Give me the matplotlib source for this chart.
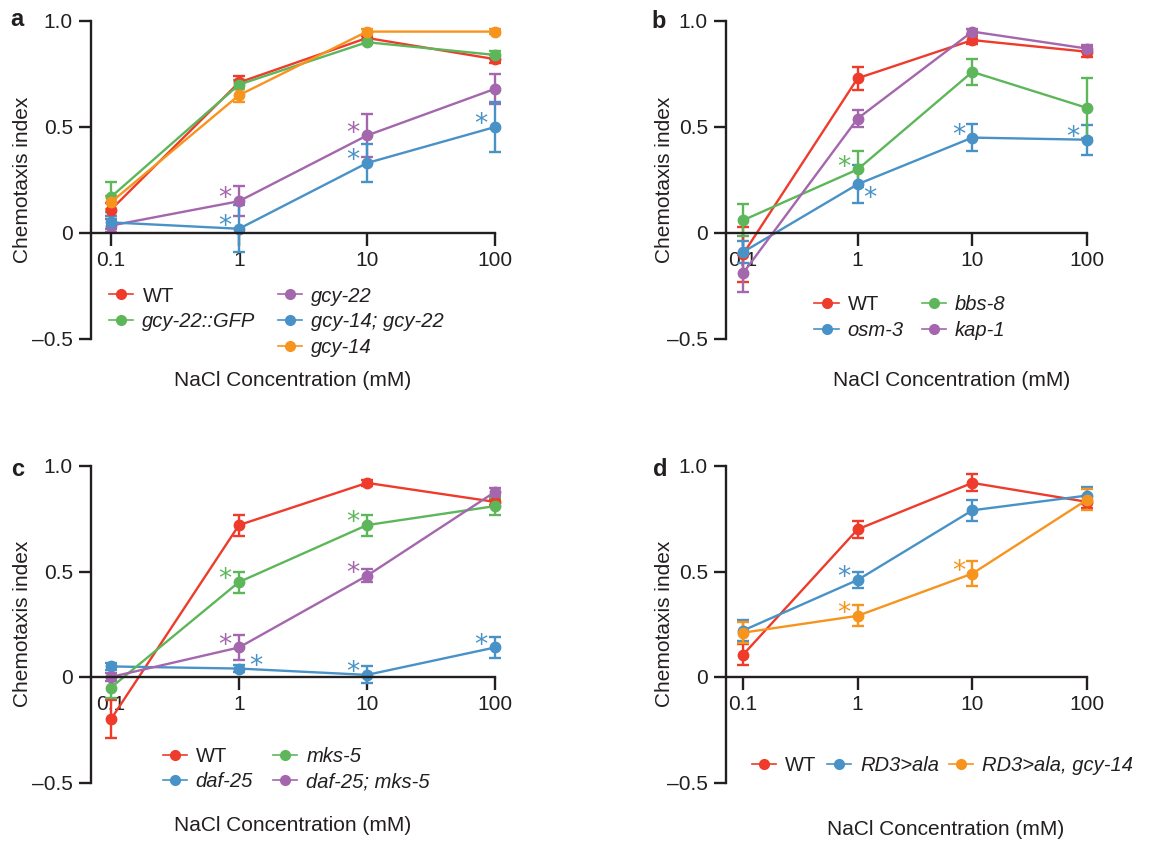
import numpy as np
import matplotlib
matplotlib.use('Agg')
import matplotlib.pyplot as plt
from matplotlib.lines import Line2D
from matplotlib.ticker import NullLocator, FixedLocator, FixedFormatter

plt.rcParams['font.family'] = ['Liberation Sans', 'DejaVu Sans']

# NaCl concentrations (mM)
conc = [0.1, 1, 10, 100]

# colours
RED = '#EE3B2B'
GREEN = '#5DB75A'
PURPLE = '#A466AC'
BLUE = '#4892C7'
ORANGE = '#F7941E'

# panel a
a_names = ['WT', 'gcy-22::GFP', 'gcy-22', 'gcy-14; gcy-22', 'gcy-14']
a_colors = [RED, GREEN, PURPLE, BLUE, ORANGE]
a_mean = [[0.11, 0.71, 0.92, 0.82],
          [0.17, 0.70, 0.90, 0.84],
          [0.035, 0.15, 0.46, 0.68],
          [0.05, 0.02, 0.33, 0.50],
          [0.145, 0.65, 0.95, 0.95]]
a_err = [[0.03, 0.03, 0.01, 0.02],
         [0.07, 0.02, 0.01, 0.02],
         [0.03, 0.07, 0.10, 0.07],
         [0.03, 0.11, 0.09, 0.12],
         [0.03, 0.03, 0.01, 0.01]]
a_stars = [(2, 1, 'l'), (3, 1, 'l'), (2, 2, 'l'), (3, 2, 'l'), (3, 3, 'l')]

# panel b
b_names = ['WT', 'osm-3', 'bbs-8', 'kap-1']
b_colors = [RED, BLUE, GREEN, PURPLE]
b_mean = [[-0.10, 0.73, 0.91, 0.855],
          [-0.09, 0.23, 0.45, 0.44],
          [0.06, 0.30, 0.76, 0.59],
          [-0.19, 0.54, 0.95, 0.87]]
b_err = [[0.13, 0.055, 0.02, 0.025],
         [0.05, 0.09, 0.065, 0.07],
         [0.075, 0.085, 0.06, 0.14],
         [0.09, 0.04, 0.01, 0.015]]
b_stars = [(2, 1, 'l'), (1, 1, 'rb'), (1, 2, 'l'), (1, 3, 'l')]

# panel c
c_names = ['WT', 'daf-25', 'mks-5', 'daf-25; mks-5']
c_colors = [RED, BLUE, GREEN, PURPLE]
c_mean = [[-0.20, 0.72, 0.92, 0.83],
          [0.05, 0.04, 0.01, 0.14],
          [-0.05, 0.45, 0.72, 0.81],
          [0.0, 0.14, 0.48, 0.877]]
c_err = [[0.09, 0.05, 0.015, 0.015],
         [0.015, 0.015, 0.04, 0.05],
         [0.05, 0.05, 0.05, 0.04],
         [0.02, 0.06, 0.03, 0.02]]
c_stars = [(2, 1, 'l'), (3, 1, 'l'), (1, 1, 'r'), (2, 2, 'l'), (3, 2, 'l'),
           (1, 2, 'l'), (1, 3, 'l')]

# panel d
d_names = ['WT', 'RD3>ala', 'RD3>ala, gcy-14']
d_colors = [RED, BLUE, ORANGE]
d_mean = [[0.105, 0.70, 0.92, 0.83],
          [0.22, 0.46, 0.79, 0.86],
          [0.21, 0.29, 0.49, 0.84]]
d_err = [[0.05, 0.04, 0.04, 0.03],
         [0.05, 0.04, 0.05, 0.04],
         [0.05, 0.05, 0.06, 0.05]]
d_stars = [(1, 1, 'l'), (2, 1, 'l'), (2, 2, 'l')]

yticks = [-0.5, 0, 0.5, 1.0]
ytick_labels = ['\u20130.5', '0', '0.5', '1.0']
xtick_labels = ['0.1', '1', '10', '100']

star_offsets = {'l': (-10, -8), 'r': (12, -8), 'rb': (9, -20)}

W, H = 1175, 841
fig = plt.figure(figsize=(W / 100, H / 100), dpi=100)


def px_axes(left, right, top, bottom):
    return fig.add_axes([left / W, 1 - bottom / H, (right - left) / W, (bottom - top) / H])


def draw_panel(ax, names, colors, mean, err, stars, xlim_left, leg_pos, ncol,
               xlab_pos, colspace):
    for i in range(len(names)):
        cont = ax.errorbar(conc, mean[i], yerr=err[i], fmt='-o', color=colors[i],
                           lw=1.7, ms=7.5, capsize=4, capthick=1.7, elinewidth=1.7)
        for art in cont.get_children():
            art.set_clip_on(False)
    for s, k, side in stars:
        ax.annotate('*', xy=(conc[k], mean[s][k]), xytext=star_offsets[side],
                    textcoords='offset points', ha='center', va='bottom',
                    color=colors[s], fontsize=19, family='DejaVu Sans',
                    annotation_clip=False)
    ax.set_xscale('log')
    ax.set_xlim(xlim_left, 100)
    ax.set_ylim(-0.5, 1.0)
    ax.xaxis.set_major_locator(FixedLocator(conc))
    ax.xaxis.set_major_formatter(FixedFormatter(xtick_labels))
    ax.xaxis.set_minor_locator(NullLocator())
    ax.set_yticks(yticks)
    ax.set_yticklabels(ytick_labels)
    ax.spines['top'].set_visible(False)
    ax.spines['right'].set_visible(False)
    ax.spines['bottom'].set_position(('data', 0))
    ax.spines['left'].set_bounds(-0.5, 1.0)
    for sp in ['left', 'bottom']:
        ax.spines[sp].set_linewidth(1.7)
        ax.spines[sp].set_color('#231F20')
    ax.tick_params(direction='out', length=9, width=1.7, labelsize=15,
                   colors='#231F20', pad=4)
    ax.set_xlabel('NaCl Concentration (mM)', fontsize=15, va='center', color='#231F20')
    ax.xaxis.set_label_coords(*xlab_pos)
    ax.set_ylabel('Chemotaxis index', fontsize=15, va='center', color='#231F20')
    ax.yaxis.set_label_coords(-0.17, 0.5)

    handles = []
    labels = []
    for i in range(len(names)):
        handles.append(Line2D([], [], color=colors[i], lw=1.2, marker='o', ms=7))
        labels.append(names[i])
    if len(names) == 5:
        # keep the two-row first column of the original
        handles.insert(2, Line2D([], [], lw=0, alpha=0))
        labels.insert(2, ' ')
    leg = ax.legend(handles, labels, loc='upper left', bbox_to_anchor=leg_pos,
                    ncol=ncol, frameon=False, fontsize=14.5, borderpad=0,
                    borderaxespad=0, handlelength=1.2, handletextpad=0.45,
                    columnspacing=colspace, labelspacing=0.33)
    for t in leg.get_texts():
        t.set_color('#231F20')
        if t.get_text() != 'WT':
            t.set_fontstyle('italic')
    return ax


ax_a = px_axes(91, 495, 21, 339)
draw_panel(ax_a, a_names, a_colors, a_mean, a_err, a_stars, 0.0698,
           (0.045, 0.165), 2, (0.5, -0.132), 1.1)
ax_b = px_axes(726, 1087, 21, 339)
draw_panel(ax_b, b_names, b_colors, b_mean, b_err, b_stars, 0.0711,
           (0.245, 0.138), 2, (0.626, -0.132), 0.9)
ax_c = px_axes(91, 495, 466, 782.5)
draw_panel(ax_c, c_names, c_colors, c_mean, c_err, c_stars, 0.0698,
           (0.177, 0.113), 2, (0.5, -0.137), 1.0)
ax_d = px_axes(726, 1087, 466, 782.5)
draw_panel(ax_d, d_names, d_colors, d_mean, d_err, d_stars, 0.0711,
           (0.072, 0.085), 3, (0.607, -0.147), 0.5)

for letter, x, y in [('a', 17, 19), ('b', 659, 21), ('c', 18, 469), ('d', 660, 469)]:
    fig.text(x / W, 1 - y / H, letter, ha='center', va='center', fontsize=17,
             fontweight='bold', color='#231F20')

fig.savefig('out.png', dpi=100)
